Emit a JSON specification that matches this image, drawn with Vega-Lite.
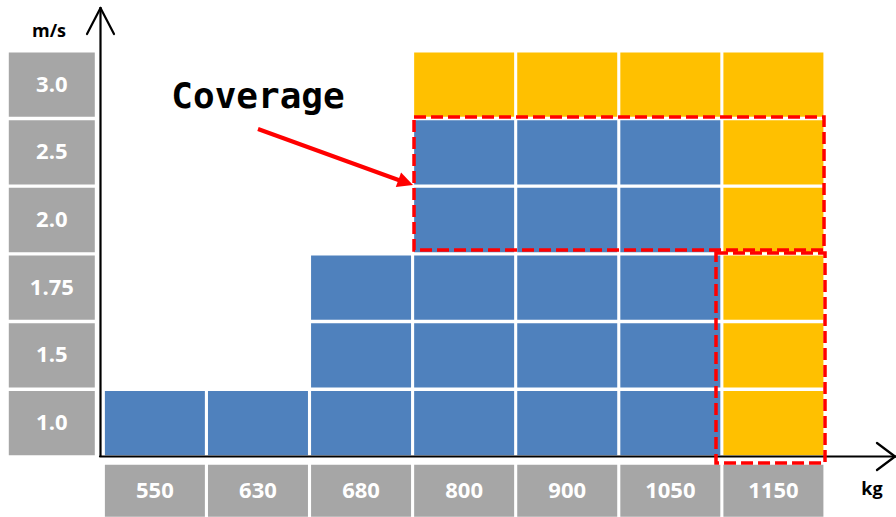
{
  "$schema": "https://vega.github.io/schema/vega-lite/v6.json",
  "width": 896,
  "height": 517,
  "autosize": {"type": "none"},
  "padding": 0,
  "background": "white",
  "config": {"view": {"stroke": null}},
  "datasets": {
    "cells": [
      {"kg": "550", "ms": "1.0", "range": "current"},
      {"kg": "630", "ms": "1.0", "range": "current"},
      {"kg": "680", "ms": "1.0", "range": "current"},
      {"kg": "800", "ms": "1.0", "range": "current"},
      {"kg": "900", "ms": "1.0", "range": "current"},
      {"kg": "1050", "ms": "1.0", "range": "current"},
      {"kg": "1150", "ms": "1.0", "range": "extended"},
      {"kg": "680", "ms": "1.5", "range": "current"},
      {"kg": "800", "ms": "1.5", "range": "current"},
      {"kg": "900", "ms": "1.5", "range": "current"},
      {"kg": "1050", "ms": "1.5", "range": "current"},
      {"kg": "1150", "ms": "1.5", "range": "extended"},
      {"kg": "680", "ms": "1.75", "range": "current"},
      {"kg": "800", "ms": "1.75", "range": "current"},
      {"kg": "900", "ms": "1.75", "range": "current"},
      {"kg": "1050", "ms": "1.75", "range": "current"},
      {"kg": "1150", "ms": "1.75", "range": "extended"},
      {"kg": "800", "ms": "2.0", "range": "current"},
      {"kg": "900", "ms": "2.0", "range": "current"},
      {"kg": "1050", "ms": "2.0", "range": "current"},
      {"kg": "1150", "ms": "2.0", "range": "extended"},
      {"kg": "800", "ms": "2.5", "range": "current"},
      {"kg": "900", "ms": "2.5", "range": "current"},
      {"kg": "1050", "ms": "2.5", "range": "current"},
      {"kg": "1150", "ms": "2.5", "range": "extended"},
      {"kg": "800", "ms": "3.0", "range": "extended"},
      {"kg": "900", "ms": "3.0", "range": "extended"},
      {"kg": "1050", "ms": "3.0", "range": "extended"},
      {"kg": "1150", "ms": "3.0", "range": "extended"}
    ],
    "speeds": [
      {"ms": "3.0"}, {"ms": "2.5"}, {"ms": "2.0"}, {"ms": "1.75"}, {"ms": "1.5"}, {"ms": "1.0"}
    ],
    "loads": [
      {"kg": "550"}, {"kg": "630"}, {"kg": "680"}, {"kg": "800"}, {"kg": "900"}, {"kg": "1050"}, {"kg": "1150"}
    ],
    "axes": [
      {"part": "y-axis", "u": -0.0427, "v": -0.0118, "u2": -0.0427, "v2": 6.6076},
      {"part": "y-head-left", "u": -0.1736, "v": 6.2234, "u2": -0.0427, "v2": 6.6076},
      {"part": "y-head-right", "u": 0.0883, "v": 6.2234, "u2": -0.0427, "v2": 6.6076},
      {"part": "x-axis", "u": -0.0475, "v": -0.0192, "u2": 7.6642, "v2": -0.0192},
      {"part": "x-head-upper", "u": 7.4895, "v": 0.1803, "u2": 7.6642, "v2": -0.0192},
      {"part": "x-head-lower", "u": 7.4895, "v": -0.2187, "u2": 7.6642, "v2": -0.0192}
    ],
    "axisTitles": [
      {"label": "m/s", "u": -0.5422, "v": 6.253},
      {"label": "kg", "u": 7.441, "v": -0.5142}
    ],
    "coverageBoxes": [
      {"box": "upper", "u": 2.9985, "v": 4.997, "u2": 6.9757, "v2": 3.0319},
      {"box": "right", "u": 5.9278, "v": 2.9876, "u2": 6.9853, "v2": -0.1153}
    ],
    "callout": [
      {"label": "Coverage", "u": 1.4851, "v": 5.13, "tailU": 1.4851, "tailV": 4.8197, "shaftU": 2.9014, "shaftV": 4.0366, "tipU": 2.9887, "tipV": 3.9923}
    ]
  },
  "layer": [
    {
      "data": {"name": "cells"},
      "mark": {"type": "rect"},
      "encoding": {
        "x": {"field": "kg", "type": "ordinal", "axis": null,
              "scale": {"type": "band", "domain": ["m/s", "550", "630", "680", "800", "900", "1050", "1150"], "range": [1.8, 823.4], "paddingInner": 0.03, "paddingOuter": 0}},
        "y": {"field": "ms", "type": "ordinal", "axis": null,
              "scale": {"type": "band", "domain": ["3.0", "2.5", "2.0", "1.75", "1.5", "1.0", "kg"], "range": [52.5, 522.9], "paddingInner": 0.05, "paddingOuter": 0}},
        "color": {"field": "range", "type": "nominal", "legend": null,
                  "scale": {"domain": ["current", "extended"], "range": ["#4F81BD", "#FFC000"]}}
      }
    },
    {
      "data": {"name": "speeds"},
      "mark": {"type": "rect", "color": "#A6A6A6", "width": {"band": 0.86}},
      "encoding": {
        "x": {"datum": "m/s", "type": "ordinal", "axis": null,
              "scale": {"type": "band", "domain": ["m/s", "550", "630", "680", "800", "900", "1050", "1150"], "range": [1.8, 823.4], "paddingInner": 0.03, "paddingOuter": 0}},
        "y": {"field": "ms", "type": "ordinal", "axis": null,
              "scale": {"type": "band", "domain": ["3.0", "2.5", "2.0", "1.75", "1.5", "1.0", "kg"], "range": [52.5, 522.9], "paddingInner": 0.05, "paddingOuter": 0}}
      }
    },
    {
      "data": {"name": "speeds"},
      "mark": {"type": "text", "color": "white", "font": "Open Sans", "fontWeight": "bold", "fontSize": 22, "baseline": "middle", "align": "center"},
      "encoding": {
        "x": {"datum": "m/s", "type": "ordinal", "axis": null,
              "scale": {"type": "band", "domain": ["m/s", "550", "630", "680", "800", "900", "1050", "1150"], "range": [1.8, 823.4], "paddingInner": 0.03, "paddingOuter": 0}},
        "y": {"field": "ms", "type": "ordinal", "axis": null,
              "scale": {"type": "band", "domain": ["3.0", "2.5", "2.0", "1.75", "1.5", "1.0", "kg"], "range": [52.5, 522.9], "paddingInner": 0.05, "paddingOuter": 0}},
        "text": {"field": "ms"}
      }
    },
    {
      "data": {"name": "loads"},
      "mark": {"type": "rect", "color": "#A6A6A6", "height": {"band": 0.81}},
      "encoding": {
        "x": {"field": "kg", "type": "ordinal", "axis": null,
              "scale": {"type": "band", "domain": ["m/s", "550", "630", "680", "800", "900", "1050", "1150"], "range": [1.8, 823.4], "paddingInner": 0.03, "paddingOuter": 0}},
        "y": {"datum": "kg", "type": "ordinal", "axis": null,
              "scale": {"type": "band", "domain": ["3.0", "2.5", "2.0", "1.75", "1.5", "1.0", "kg"], "range": [52.5, 522.9], "paddingInner": 0.05, "paddingOuter": 0}}
      }
    },
    {
      "data": {"name": "loads"},
      "mark": {"type": "text", "color": "white", "font": "Open Sans", "fontWeight": "bold", "fontSize": 22, "baseline": "middle", "align": "center"},
      "encoding": {
        "x": {"field": "kg", "type": "ordinal", "axis": null,
              "scale": {"type": "band", "domain": ["m/s", "550", "630", "680", "800", "900", "1050", "1150"], "range": [1.8, 823.4], "paddingInner": 0.03, "paddingOuter": 0}},
        "y": {"datum": "kg", "type": "ordinal", "axis": null,
              "scale": {"type": "band", "domain": ["3.0", "2.5", "2.0", "1.75", "1.5", "1.0", "kg"], "range": [52.5, 522.9], "paddingInner": 0.05, "paddingOuter": 0}},
        "text": {"field": "kg"}
      }
    },
    {
      "data": {"name": "axes"},
      "mark": {"type": "rule", "color": "black", "strokeWidth": 2.2, "strokeCap": "round"},
      "encoding": {
        "x": {"field": "u", "type": "quantitative", "axis": null, "scale": {"domain": [-1.01756, 7.6739], "nice": false, "zero": false}},
        "y": {"field": "v", "type": "quantitative", "axis": null, "scale": {"domain": [-0.9131, 6.7258], "nice": false, "zero": false}},
        "x2": {"field": "u2"},
        "y2": {"field": "v2"}
      }
    },
    {
      "data": {"name": "axisTitles"},
      "mark": {"type": "text", "color": "black", "font": "Open Sans", "fontWeight": "bold", "fontSize": 18, "baseline": "middle", "align": "center"},
      "encoding": {
        "x": {"field": "u", "type": "quantitative", "axis": null, "scale": {"domain": [-1.01756, 7.6739], "nice": false, "zero": false}},
        "y": {"field": "v", "type": "quantitative", "axis": null, "scale": {"domain": [-0.9131, 6.7258], "nice": false, "zero": false}},
        "text": {"field": "label"}
      }
    },
    {
      "data": {"name": "coverageBoxes"},
      "mark": {"type": "rect", "fill": null, "fillOpacity": 0, "stroke": "#FF0000", "strokeWidth": 3.5, "strokeDash": [12, 5]},
      "encoding": {
        "x": {"field": "u", "type": "quantitative", "axis": null, "scale": {"domain": [-1.01756, 7.6739], "nice": false, "zero": false}},
        "y": {"field": "v", "type": "quantitative", "axis": null, "scale": {"domain": [-0.9131, 6.7258], "nice": false, "zero": false}},
        "x2": {"field": "u2"},
        "y2": {"field": "v2"}
      }
    },
    {
      "data": {"name": "callout"},
      "mark": {"type": "rule", "color": "#FF0000", "strokeWidth": 4},
      "encoding": {
        "x": {"field": "tailU", "type": "quantitative", "axis": null, "scale": {"domain": [-1.01756, 7.6739], "nice": false, "zero": false}},
        "y": {"field": "tailV", "type": "quantitative", "axis": null, "scale": {"domain": [-0.9131, 6.7258], "nice": false, "zero": false}},
        "x2": {"field": "shaftU"},
        "y2": {"field": "shaftV"}
      }
    },
    {
      "data": {"name": "callout"},
      "mark": {"type": "point", "shape": "M0,0L-2,-1L-2,1Z", "size": 240, "angle": 19.9, "filled": true, "color": "#FF0000", "opacity": 1, "strokeWidth": 0},
      "encoding": {
        "x": {"field": "tipU", "type": "quantitative", "axis": null, "scale": {"domain": [-1.01756, 7.6739], "nice": false, "zero": false}},
        "y": {"field": "tipV", "type": "quantitative", "axis": null, "scale": {"domain": [-0.9131, 6.7258], "nice": false, "zero": false}}
      }
    },
    {
      "data": {"name": "callout"},
      "mark": {"type": "text", "color": "black", "font": "DejaVu Sans Mono", "fontWeight": "bold", "fontSize": 36, "baseline": "alphabetic", "align": "center"},
      "encoding": {
        "x": {"field": "u", "type": "quantitative", "axis": null, "scale": {"domain": [-1.01756, 7.6739], "nice": false, "zero": false}},
        "y": {"field": "v", "type": "quantitative", "axis": null, "scale": {"domain": [-0.9131, 6.7258], "nice": false, "zero": false}},
        "text": {"field": "label"}
      }
    }
  ],
  "resolve": {"scale": {"x": "independent", "y": "independent", "color": "independent"}}
}
